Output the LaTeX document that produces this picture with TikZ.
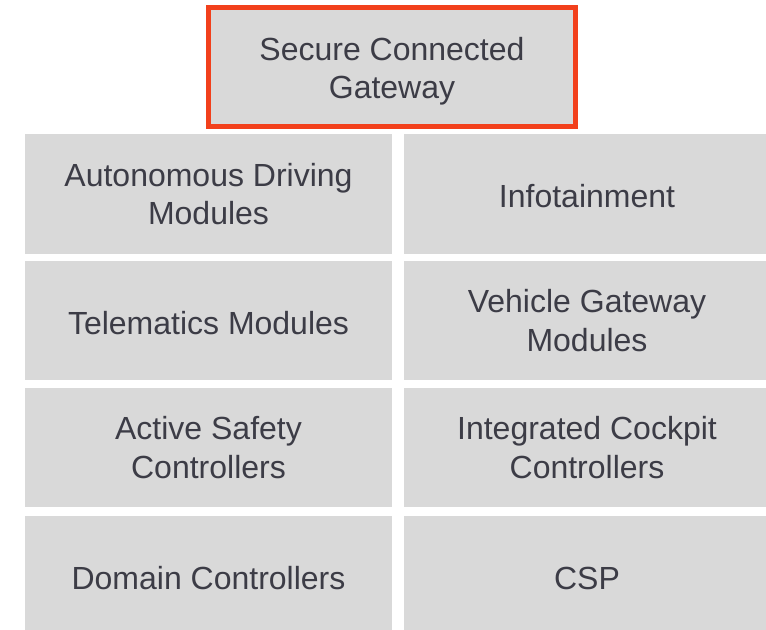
\documentclass[tikz,border=0pt]{standalone}
\usepackage{fontspec}
\setmainfont{Liberation Sans}
\definecolor{boxgray}{HTML}{D9D9D9}
\definecolor{gwred}{HTML}{F2401C}
\definecolor{textgray}{HTML}{3C3C46}
\tikzset{
  module/.style={fill=boxgray, text=textgray, align=center, inner sep=0pt,
    minimum height=89.5pt, font=\fontsize{24}{28.8}\selectfont,
    execute at begin node={\rule{0pt}{20.5pt}}},
  leftbox/.style={module, minimum width=275.25pt},
  rightbox/.style={module, minimum width=274.5pt},
}
\begin{document}
\begin{tikzpicture}[x=0.75pt, y=-0.75pt]
\useasboundingbox (0,0) rectangle (766,630);

\node[module, draw=gwred, line width=3.75pt, minimum width=275.25pt, minimum height=89.25pt] (Gateway) at (392,67) {\rule{0pt}{24pt}Secure Connected\\Gateway};

\node[leftbox] (Autonomous) at (208.5,194) {Autonomous Driving\\Modules};
\node[rightbox] (Infotainment) at (587,194) {Infotainment};

\node[leftbox] (Telematics) at (208.5,320.5) {Telematics Modules};
\node[rightbox] (Vehicle Gateway) at (587,320.5) {Vehicle Gateway\\Modules};

\node[leftbox] (Active Safety) at (208.5,447.5) {Active Safety\\Controllers};
\node[rightbox] (Cockpit) at (587,447.5) {Integrated Cockpit\\Controllers};

\node[leftbox] (Domain) at (208.5,575.5) {Domain Controllers};
\node[rightbox] (CSP) at (587,575.5) {CSP};
\end{tikzpicture}
\end{document}
